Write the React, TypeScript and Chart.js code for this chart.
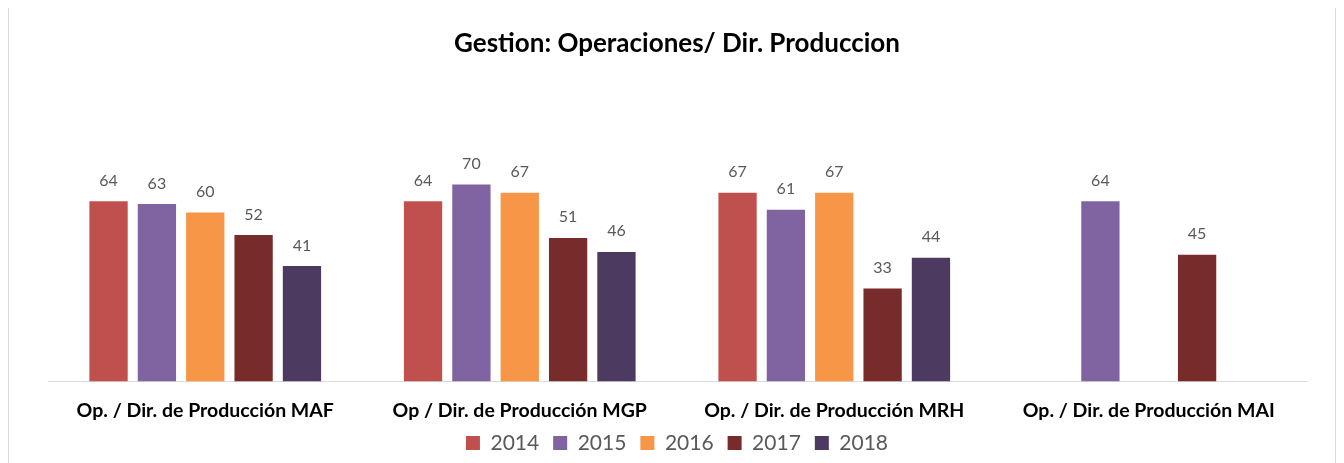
import React, { useEffect, useRef } from "react";
import { Chart, registerables } from "chart.js";

Chart.register(...registerables);

const categories = [
  "Op. / Dir. de Producción MAF",
  "Op / Dir. de Producción MGP",
  "Op. / Dir. de Producción MRH",
  "Op. / Dir. de Producción MAI",
];
const seriesNames = ["2014", "2015", "2016", "2017", "2018"];
const values2014 = [64, 64, 67, null];
const values2015 = [63, 70, 61, 64];
const values2016 = [60, 67, 67, null];
const values2017 = [52, 51, 33, 45];
const values2018 = [41, 46, 44, null];
const seriesColors = ["#C0504D", "#8064A2", "#F79646", "#772C2B", "#4D3A61"];
const titleText = "Gestion: Operaciones/ Dir. Produccion";

const LEGEND_HEIGHT = 41;
const LEGEND_SHIFT = -3.5;
const X_AXIS_HEIGHT = 40.4;

function patchLegend(chart: any) {
  const legend = chart.legend;
  if (!legend || legend._patched) return;
  legend._patched = true;
  const origFit = legend.fit.bind(legend);
  legend.fit = function () {
    origFit();
    this.height = LEGEND_HEIGHT;
  };
  const origDraw = legend.draw.bind(legend);
  legend.draw = function () {
    const t = this.top;
    this.top = t + LEGEND_SHIFT;
    origDraw();
    this.top = t;
  };
}

const valueLabels = {
  id: "valueLabels",
  beforeLayout(chart: any) {
    patchLegend(chart);
  },
  afterDatasetsDraw(chart: any) {
    const ctx = chart.ctx;
    ctx.save();
    ctx.font = "16px Lato";
    ctx.fillStyle = "#595959";
    ctx.textAlign = "center";
    ctx.textBaseline = "alphabetic";
    chart.data.datasets.forEach((ds: any, i: number) => {
      const meta = chart.getDatasetMeta(i);
      meta.data.forEach((el: any, j: number) => {
        const v = ds.data[j];
        if (v == null) return;
        ctx.fillText(String(v), el.x, el.y - 15.5);
      });
    });
    ctx.restore();
  },
};

export default function App() {
  const ref = useRef<HTMLCanvasElement | null>(null);

  useEffect(() => {
    document.documentElement.style.overflow = "hidden";
    document.body.style.overflow = "hidden";
    if (!ref.current) return;
    Chart.defaults.font.family = "Lato";
    const allValues = [values2014, values2015, values2016, values2017, values2018];
    const chart = new Chart(ref.current, {
      type: "bar",
      data: {
        labels: categories,
        datasets: seriesNames.map((name, i) => ({
          label: name,
          data: allValues[i],
          backgroundColor: seriesColors[i],
          borderWidth: 0,
          categoryPercentage: 0.7687,
          barPercentage: 0.792,
        })),
      },
      options: {
        animation: false,
        responsive: false,
        maintainAspectRatio: false,
        layout: { padding: { left: 39, right: 29, top: 0, bottom: 0 } },
        plugins: {
          title: {
            display: true,
            text: titleText,
            color: "#000000",
            font: { family: "Lato", size: 26, weight: "bold" },
            padding: { top: 21, bottom: 97 },
          },
          legend: {
            display: true,
            position: "bottom",
            labels: {
              boxWidth: 14,
              boxHeight: 14,
              padding: 14,
              color: "#595959",
              font: { family: "Lato", size: 21 },
            },
          },
          tooltip: { enabled: false },
        },
        scales: {
          x: {
            grid: { display: false, drawTicks: false },
            border: { display: true, color: "#D9D9D9", width: 1 },
            ticks: {
              color: "#000000",
              font: { family: "Lato", size: 19.5, weight: "bold" },
              padding: 17,
              maxRotation: 0,
              autoSkip: false,
            },
            afterFit: (scale: any) => {
              scale.height = X_AXIS_HEIGHT;
            },
          },
          y: {
            display: false,
            min: 0,
            max: 80,
          },
        },
      },
      plugins: [valueLabels],
    });
    return () => chart.destroy();
  }, []);

  return (
    <div
      style={{
        marginTop: -2,
        borderTop: "1px solid #D9D9D9",
        borderLeft: "1px solid #D9D9D9",
        borderRight: "1px solid #D9D9D9",
        width: 1326,
        height: 470,
        background: "#FFFFFF",
      }}
    >
      <canvas ref={ref} width={1326} height={456} style={{ display: "block" }} />
    </div>
  );
}
